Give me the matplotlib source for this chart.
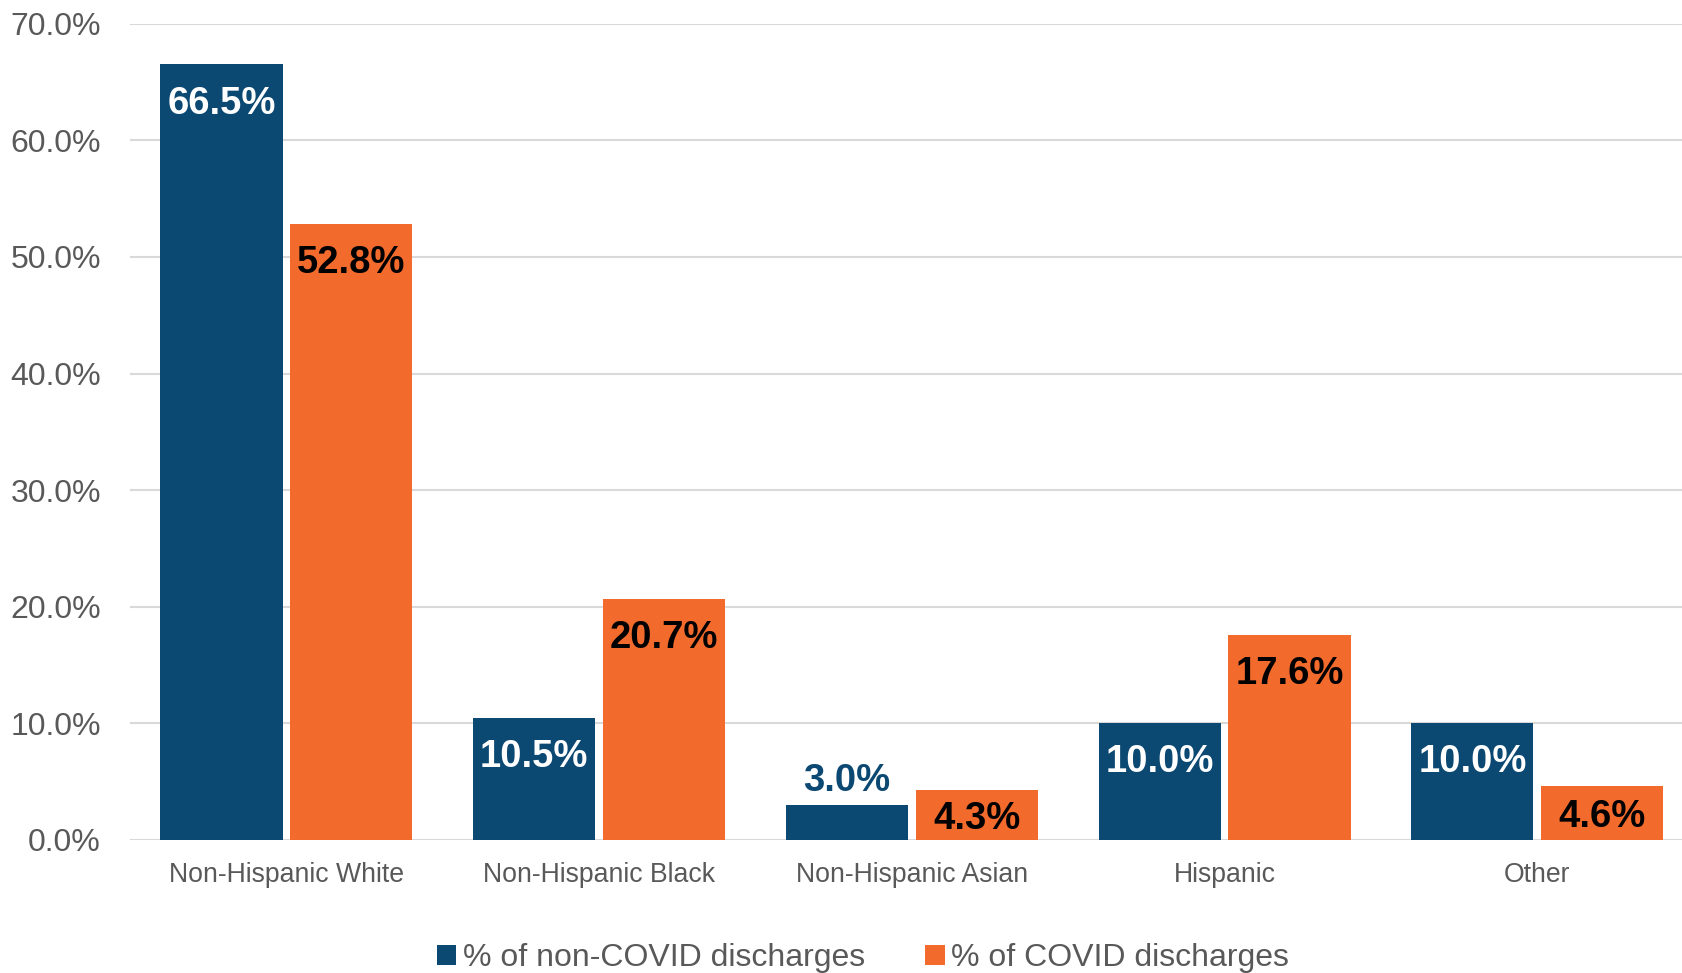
import numpy as np
import matplotlib.pyplot as plt
from matplotlib.ticker import FuncFormatter

plt.rcParams['font.family'] = ['Liberation Sans', 'DejaVu Sans']

# discharge share by race/ethnicity
groups = ["Non-Hispanic White", "Non-Hispanic Black", "Non-Hispanic Asian", "Hispanic", "Other"]
non_covid = [66.5, 10.5, 3.0, 10.0, 10.0]
covid = [52.8, 20.7, 4.3, 17.6, 4.6]
series_names = ["% of non-COVID discharges", "% of COVID discharges"]

blue = "#0B4872"
orange = "#F26A2C"
grey = "#595959"

fig = plt.figure(figsize=(16.82, 9.73), dpi=100)
# plot area runs a little past the right edge of the figure
ax = fig.add_axes([0.0773, 0.1367, 0.9296, 0.839])

x = np.arange(len(groups))
w = 0.391
gap = 0.012
b1 = ax.bar(x - w/2 - gap, non_covid, w, color=blue, label=series_names[0], zorder=3)
b2 = ax.bar(x + w/2 + gap, covid, w, color=orange, label=series_names[1], zorder=3)

ax.set_ylim(0, 70)
ax.set_xlim(-0.5, len(groups) - 0.5)
ax.set_yticks(np.arange(0, 71, 10))
ax.yaxis.set_major_formatter(FuncFormatter(lambda v, p: f"{v:.1f}%"))
ax.grid(axis="y", color="#D9D9D9", linewidth=1.5, zorder=0)
for s in ax.spines.values():
    s.set_visible(False)
ax.tick_params(axis="both", length=0, colors=grey)
ax.tick_params(axis="y", labelsize=23.0, pad=21)
ax.set_xticks(x)
ax.set_xticklabels(groups, fontsize=19.2, color=grey)
ax.tick_params(axis="x", pad=16)

# value labels near the top of each bar
off = 3.35
def put_labels(bars, vals, col):
    for rect, v in zip(bars, vals):
        cx = rect.get_x() + rect.get_width() / 2
        if v < 3.5 and col == "white":
            ax.text(cx, v + 2.1, f"{v:.1f}%", ha="center", va="center",
                    fontsize=27.5, fontweight="bold", color=blue, zorder=4)
        else:
            y = max(v - off, v / 2 - 0.35)
            ax.text(cx, y, f"{v:.1f}%", ha="center", va="center",
                    fontsize=27.5, fontweight="bold", color=col, zorder=4)

put_labels(b1, non_covid, "white")
put_labels(b2, covid, "black")

fig.legend(handles=[b1, b2], loc="center", bbox_to_anchor=(0.513, 0.015),
           ncol=2, frameon=False, fontsize=23, labelcolor=grey,
           handlelength=0.6, handleheight=0.6, handletextpad=0.2, columnspacing=1.9)

fig.savefig("out.png", dpi=100)
